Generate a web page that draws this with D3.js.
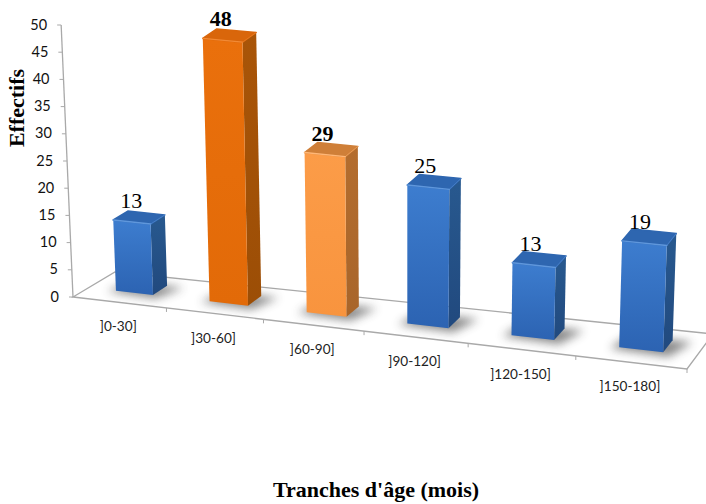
<!DOCTYPE html>
<html lang="fr">
<head>
<meta charset="utf-8">
<style>
  html, body { margin: 0; padding: 0; background: #fff; overflow: hidden; }
  svg { display: block; }
</style>
<script src="https://cdn.jsdelivr.net/npm/d3@7/dist/d3.min.js"></script>
</head>
<body>
<svg id="chart" width="706" height="504"></svg>
<script>
// Age brackets and head counts
const categories = ["]0-30]", "]30-60]", "]60-90]", "]90-120]", "]120-150]", "]150-180]"];
const counts = [13, 48, 29, 25, 13, 19];
const tones = ["blue", "deep", "light", "blue", "blue", "blue"];
const yTicks = [0, 5, 10, 15, 20, 25, 30, 35, 40, 45, 50];

const palette = {
  blue:  { front: ["#3d7dcf", "#2c63b2"], side: ["#28598f", "#21497e"], top: "#2e66b0", edge: "#5f97dc" },
  deep:  { front: ["#ea700c", "#e26a08"], side: ["#a95508", "#9c4e06"], top: "#d9660b", edge: "#f28a35" },
  light: { front: ["#fc9c48", "#f8943e"], side: ["#b46d2e", "#a8652a"], top: "#cf7f38", edge: "#ffb777" }
};

// Floor corners of the 3D plot box, in page pixels
const FL = [73, 297], FR = [687, 369], BL = [115, 272], BR = [713, 334];
const lerp = (a, b, k) => a + (b - a) * k;

// Foreshortening along the front edge of the floor
const warp = u => 0.896 * u + 0.104 * u * u;

const band = d3.scaleBand().domain(categories).range([0, 1]).paddingInner(0.6).paddingOuter(0.3);
const rise = d3.scaleLinear().domain([0, 50]).range([0, 272]);
const depthFront = 0.37, depthBack = 0.72;

// (u along the category axis, v into the depth, h in data units) -> page pixels
function project(u, v, h) {
  const t = warp(u);
  const gx = lerp(lerp(FL[0], FR[0], t), lerp(BL[0], BR[0], t), v);
  const gy = lerp(lerp(FL[1], FR[1], t), lerp(BL[1], BR[1], t), v);
  const px = rise(h) * (1 + 0.035 * t);
  return [gx + (gx - 408) * 0.00013 * px, gy - px];
}

const poly = d3.line().curve(d3.curveLinearClosed);
const svg = d3.select("#chart");
const defs = svg.append("defs");

defs.append("filter").attr("id", "floorShadow")
  .attr("x", "-40%").attr("y", "-80%").attr("width", "180%").attr("height", "260%")
  .append("feGaussianBlur").attr("stdDeviation", 5);

Object.entries(palette).forEach(([name, p]) => {
  const f = defs.append("linearGradient").attr("id", "front-" + name)
    .attr("x1", 0).attr("y1", 0).attr("x2", 0).attr("y2", 1);
  f.append("stop").attr("offset", 0).attr("stop-color", p.front[0]);
  f.append("stop").attr("offset", 1).attr("stop-color", p.front[1]);
  const s = defs.append("linearGradient").attr("id", "side-" + name)
    .attr("x1", 0).attr("y1", 0).attr("x2", 0).attr("y2", 1);
  s.append("stop").attr("offset", 0).attr("stop-color", p.side[0]);
  s.append("stop").attr("offset", 1).attr("stop-color", p.side[1]);
});

// Floor outline, drawn under the bars
const axisColor = "#a9a9a9";
svg.append("path")
  .attr("d", poly([project(0, 0, 0), project(1, 0, 0), project(1, 1, 0), project(0, 1, 0)]))
  .attr("fill", "none").attr("stroke", axisColor).attr("stroke-width", 1.3);

// Ticks between categories on the front edge
d3.range(1, categories.length + 1).forEach(i => {
  const [x, y] = project(i / categories.length, 0, 0);
  svg.append("line").attr("x1", x).attr("y1", y).attr("x2", x).attr("y2", y + 4)
    .attr("stroke", axisColor).attr("stroke-width", 1);
});

// Value axis, leaning with the perspective
const [ax0, ay0] = project(0, 0, 0);
const [ax1, ay1] = project(0, 0, 50);
svg.append("line").attr("x1", ax0).attr("y1", ay0).attr("x2", ax1).attr("y2", ay1)
  .attr("stroke", axisColor).attr("stroke-width", 1.3);
yTicks.forEach(v => {
  const [x, y] = project(0, 0, v);
  svg.append("line").attr("x1", x - 4).attr("y1", y).attr("x2", x).attr("y2", y)
    .attr("stroke", axisColor).attr("stroke-width", 1);
  svg.append("text").attr("x", x - 14).attr("y", y + 1).attr("text-anchor", "end")
    .attr("dominant-baseline", "middle")
    .attr("font-family", "Lato, sans-serif").attr("font-size", 14.5).attr("fill", "#111")
    .text(v);
});

// Category labels below the front edge
categories.forEach(c => {
  const [x, y] = project(band(c) + band.bandwidth() / 2, 0, 0);
  svg.append("text").attr("x", x - 1).attr("y", y + 29).attr("text-anchor", "middle")
    .attr("font-family", "Lato, sans-serif").attr("font-size", 13.6).attr("fill", "#222")
    .text(c);
});

// Bars, each with a blurred floor shadow and three visible faces
categories.forEach((c, i) => {
  const u0 = band(c), u1 = u0 + band.bandwidth(), h = counts[i], tone = tones[i], p = palette[tone];
  const g = svg.append("g");

  g.append("path")
    .attr("d", poly([
      project(u0 - 0.012, depthFront - 0.05, 0), project(u1 + 0.012, depthFront - 0.1, 0),
      project(u1 + 0.03, depthBack, 0), project(u0, depthBack, 0)
    ]))
    .attr("fill", "#4a4a4a").attr("opacity", 0.65).attr("filter", "url(#floorShadow)");

  const a = project(u0, depthFront, 0), b = project(u1, depthFront, 0), d = project(u1, depthBack, 0);
  const A = project(u0, depthFront, h), B = project(u1, depthFront, h),
        D = project(u1, depthBack, h), E = project(u0, depthBack, h);

  const face = (pts, fill) => g.append("path").attr("d", poly(pts)).attr("fill", fill)
    .attr("stroke", fill.startsWith("url") ? "none" : fill).attr("stroke-width", 1.5).attr("stroke-linejoin", "round");

  face([b, d, D, B], `url(#side-${tone})`);
  face([a, b, B, A], `url(#front-${tone})`);
  face([A, B, D, E], p.top);

  // Bevel highlight along the top front edge
  g.append("line").attr("x1", A[0]).attr("y1", A[1]).attr("x2", B[0]).attr("y2", B[1])
    .attr("stroke", p.edge).attr("stroke-width", 1.4).attr("stroke-linecap", "round");
  g.append("line").attr("x1", B[0]).attr("y1", B[1]).attr("x2", D[0]).attr("y2", D[1])
    .attr("stroke", p.edge).attr("stroke-width", 0.8).attr("opacity", 0.6).attr("stroke-linecap", "round");

  // Value above the bar; the highlighted brackets are set in bold
  svg.append("text").attr("x", A[0] + 18).attr("y", A[1] - 12).attr("text-anchor", "middle")
    .attr("font-family", "'Liberation Serif', serif").attr("font-size", 22)
    .attr("font-weight", tone === "blue" ? "normal" : "bold").attr("fill", "#000")
    .text(h);
});

// Axis titles
svg.append("text").attr("transform", "translate(24,108) rotate(-90)").attr("text-anchor", "middle")
  .attr("font-family", "'Liberation Serif', serif").attr("font-size", 22).attr("font-weight", "bold")
  .text("Effectifs");
svg.append("text").attr("x", 376).attr("y", 497).attr("text-anchor", "middle")
  .attr("font-family", "'Liberation Serif', serif").attr("font-size", 22).attr("font-weight", "bold")
  .text("Tranches d'âge (mois)");
</script>
</body>
</html>
